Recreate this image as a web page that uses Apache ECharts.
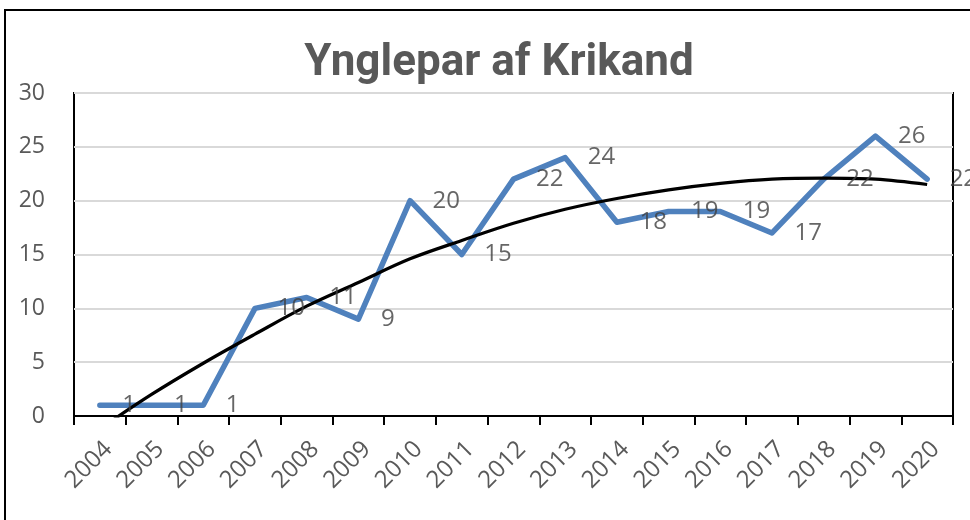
<!DOCTYPE html>
<html>
<head>
<meta charset="utf-8">
<script src="https://cdn.jsdelivr.net/npm/echarts@6/dist/echarts.min.js"></script>
<style>
  html, body { margin: 0; padding: 0; background: #fff; }
  #chart { width: 970px; height: 520px; }
</style>
</head>
<body>
<div id="chart"></div>
<script>
// Breeding pairs per year
const years = ['2004', '2005', '2006', '2007', '2008', '2009', '2010', '2011', '2012',
  '2013', '2014', '2015', '2016', '2017', '2018', '2019', '2020']
const pairs = [1, 1, 1, 10, 11, 9, 20, 15, 22, 24, 18, 19, 19, 17, 22, 26, 22]
// black polynomial trend line, estimated at each year
const trend = [-1.2, 2.0, 4.9, 7.6, 10.2, 12.4, 14.6, 16.3, 17.9, 19.2, 20.2, 21.0, 21.6, 22.0, 22.1, 22.0, 21.5]
const yMin = 0, yMax = 30, yStep = 5

const font = '"Open Sans", "Noto Sans", sans-serif'
const chart = echarts.init(document.getElementById('chart'), null, { renderer: 'canvas' })

chart.setOption({
  backgroundColor: '#fff',
  animation: false,
  title: {
    text: 'Ynglepar af Krikand',
    left: 494,
    top: 37,
    textAlign: 'center',
    textStyle: {
      fontFamily: 'Roboto, "Open Sans", sans-serif',
      fontWeight: 'bold',
      fontSize: 44,
      color: '#595959',
    },
  },
  graphic: [{
    type: 'rect',
    z: -10,
    shape: { x: 5, y: 10, width: 1000, height: 600 },
    style: { fill: 'none', stroke: '#000', lineWidth: 2 },
  }],
  grid: {
    left: 74, right: 17, top: 93, bottom: 104,
    show: true, borderColor: '#000', borderWidth: 2, backgroundColor: 'transparent',
  },
  xAxis: {
    type: 'category',
    data: years,
    boundaryGap: true,
    axisLine: { lineStyle: { color: '#000', width: 2 } },
    axisTick: { show: true, length: 9, interval: 0, lineStyle: { color: '#000', width: 2 } },
    axisLabel: {
      interval: 0, rotate: 45, margin: 21, verticalAlign: 'top',
      fontFamily: font, fontSize: 24, color: '#595959',
    },
    splitLine: { show: false },
  },
  yAxis: {
    type: 'value',
    min: yMin, max: yMax, interval: yStep,
    axisLine: { show: false },
    axisTick: { show: false },
    axisLabel: { margin: 29, fontFamily: font, fontSize: 23, color: '#595959' },
    splitLine: { lineStyle: { color: '#d9d9d9', width: 2 } },
  },
  series: [
    {
      name: 'Ynglepar',
      type: 'line',
      data: pairs,
      symbol: 'none',
      z: 2,
      lineStyle: { color: '#4f81bd', width: 5.5, cap: 'round', join: 'round' },
    },
    {
      name: 'Tendens',
      type: 'line',
      data: trend,
      symbol: 'none',
      smooth: 0.35,
      clip: true,
      z: 3,
      lineStyle: { color: '#000', width: 3.2 },
    },
    {
      // label-only layer so numbers sit above both lines
      name: 'labels',
      type: 'scatter',
      data: pairs,
      symbolSize: 1,
      z: 10,
      itemStyle: { color: 'transparent' },
      label: {
        show: true, position: 'right', distance: 22,
        fontFamily: font, fontSize: 24, color: '#404040',
      },
    },
  ],
})
</script>
</body>
</html>
